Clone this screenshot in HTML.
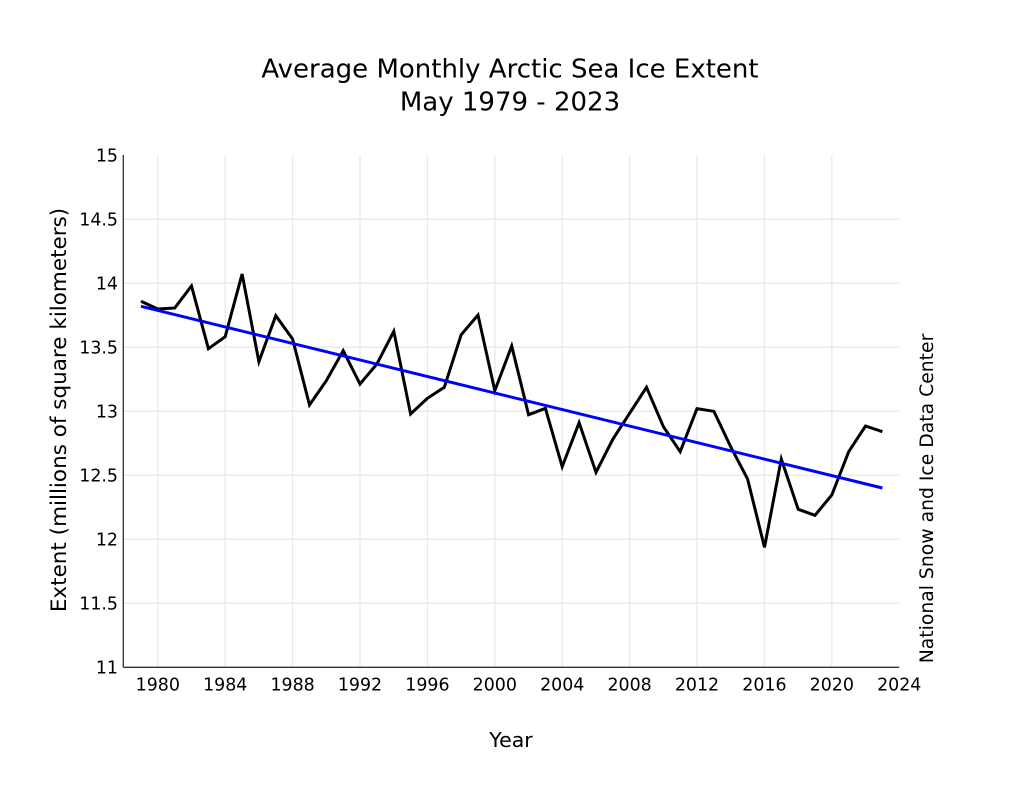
<!DOCTYPE html>
<html>
<head>
<meta charset="utf-8">
<style>
html,body{margin:0;padding:0;background:#fff;}
svg{display:block;}
text{font-family:"DejaVu Sans","Liberation Sans",sans-serif;fill:#000;}
</style>
</head>
<body>
<svg width="1024" height="791" viewBox="0 0 1024 791" xmlns="http://www.w3.org/2000/svg">
<rect width="1024" height="791" fill="#fff"/>
<!-- title -->
<text x="510" y="77.5" font-size="26" text-anchor="middle">Average Monthly Arctic Sea Ice Extent</text>
<text x="510" y="110.5" font-size="26" text-anchor="middle">May 1979 - 2023</text>

<!-- grid -->
<g stroke="#ebebeb" stroke-width="1.5">
<line x1="157.8" y1="155" x2="157.8" y2="667"/>
<line x1="225.2" y1="155" x2="225.2" y2="667"/>
<line x1="292.6" y1="155" x2="292.6" y2="667"/>
<line x1="360.0" y1="155" x2="360.0" y2="667"/>
<line x1="427.4" y1="155" x2="427.4" y2="667"/>
<line x1="494.8" y1="155" x2="494.8" y2="667"/>
<line x1="562.2" y1="155" x2="562.2" y2="667"/>
<line x1="629.6" y1="155" x2="629.6" y2="667"/>
<line x1="697.0" y1="155" x2="697.0" y2="667"/>
<line x1="764.4" y1="155" x2="764.4" y2="667"/>
<line x1="831.8" y1="155" x2="831.8" y2="667"/>
<line x1="123" y1="603.3" x2="899" y2="603.3"/>
<line x1="123" y1="539.3" x2="899" y2="539.3"/>
<line x1="123" y1="475.3" x2="899" y2="475.3"/>
<line x1="123" y1="411.3" x2="899" y2="411.3"/>
<line x1="123" y1="347.3" x2="899" y2="347.3"/>
<line x1="123" y1="283.3" x2="899" y2="283.3"/>
<line x1="123" y1="219.3" x2="899" y2="219.3"/>
</g>

<!-- axes -->
<g stroke="#333" stroke-width="1.3" fill="none">
<line x1="123.3" y1="155" x2="123.3" y2="667.3"/>
<line x1="123.3" y1="667.3" x2="899.3" y2="667.3"/>
</g>

<!-- y tick labels -->
<g font-size="17.4" text-anchor="end">
<text x="118" y="161.5">15</text>
<text x="118" y="225.5">14.5</text>
<text x="118" y="289.5">14</text>
<text x="118" y="353.5">13.5</text>
<text x="118" y="417.5">13</text>
<text x="118" y="481.5">12.5</text>
<text x="118" y="545.5">12</text>
<text x="118" y="609.5">11.5</text>
<text x="118" y="673.5">11</text>
</g>

<!-- x tick labels -->
<g font-size="17.4" text-anchor="middle">
<text x="157.8" y="690.7">1980</text>
<text x="225.2" y="690.7">1984</text>
<text x="292.6" y="690.7">1988</text>
<text x="360.0" y="690.7">1992</text>
<text x="427.4" y="690.7">1996</text>
<text x="494.8" y="690.7">2000</text>
<text x="562.2" y="690.7">2004</text>
<text x="629.6" y="690.7">2008</text>
<text x="697.0" y="690.7">2012</text>
<text x="764.4" y="690.7">2016</text>
<text x="831.8" y="690.7">2020</text>
<text x="899.2" y="690.7">2024</text>
</g>

<!-- axis labels -->
<text x="511" y="747" font-size="20.5" text-anchor="middle">Year</text>
<text transform="translate(66,410) rotate(-90)" font-size="21.5" text-anchor="middle">Extent (millions of square kilometers)</text>
<text transform="translate(933,498.5) rotate(-90)" font-size="18.8" text-anchor="middle">National Snow and Ice Data Center</text>

<!-- data -->
<polyline fill="none" stroke="#000" stroke-width="3" stroke-linejoin="miter" stroke-miterlimit="4" points="
141.0,301.3 157.8,309 174.7,308 191.5,286 208.4,348.7 225.2,336.7 242.1,274 258.9,361.7 275.8,315.7 292.6,339
309.5,405 326.3,380.7 343.2,350.7 360.0,384 376.9,364 393.8,331.3 410.6,414 427.4,398.3 444.3,387.3 461.2,334.7
478.0,315 494.8,390.7 511.7,346 528.6,414.7 545.4,408.3 562.2,466.7 579.1,422.7 596.0,472.3 612.8,439.3 629.6,413.3
646.5,387.3 663.4,426.7 680.2,451.7 697.0,408.7 713.9,411.3 730.8,447 747.6,479 764.5,547.3 781.3,459 798.2,509.3
815.0,515.3 831.8,495 848.7,451.7 865.5,426 882.4,431.7"/>

<!-- trend -->
<line x1="141" y1="306.3" x2="882.4" y2="488" stroke="#0000ff" stroke-width="3"/>
</svg>
</body>
</html>
